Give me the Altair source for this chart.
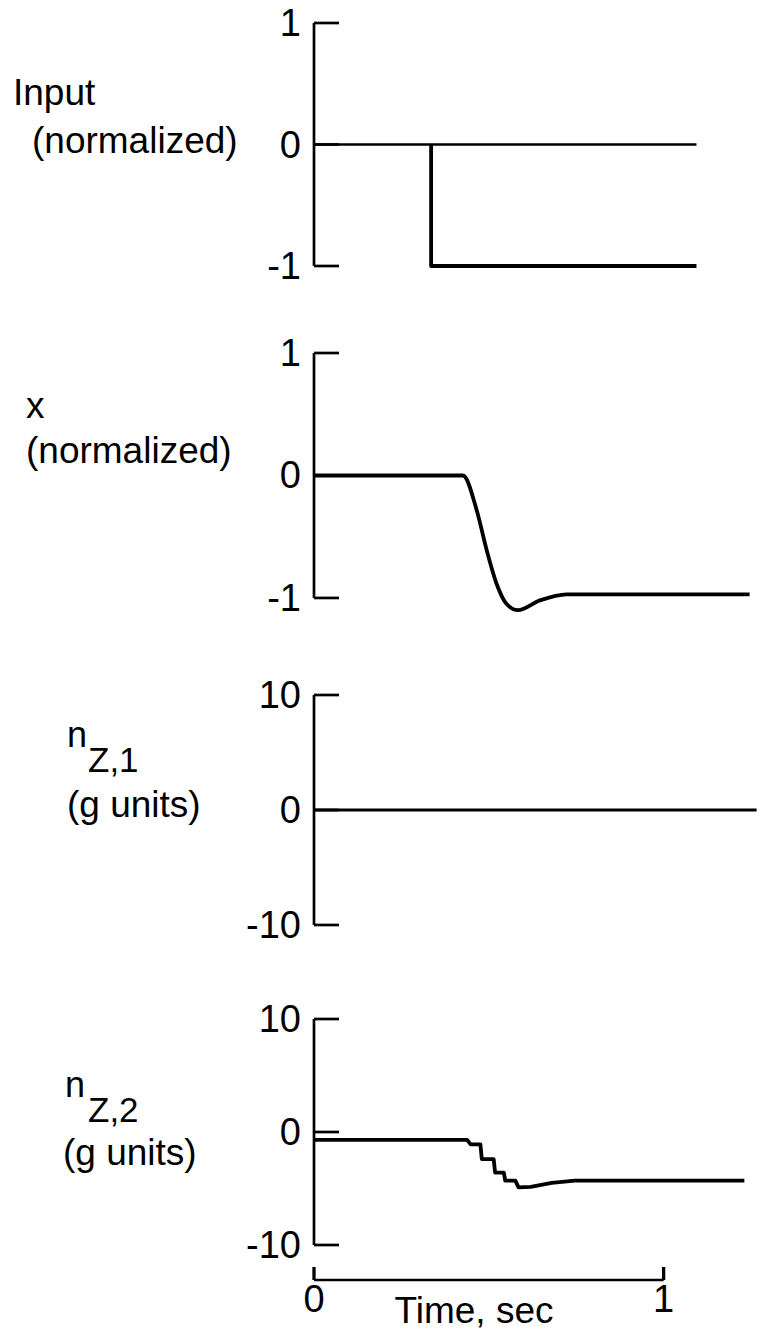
import altair as alt
import pandas as pd

FONT = "Liberation Sans"
TEXT_SIZE = 37
TICK_SIZE = 38

# time axis
T_MAX = 1.27
PX_PER_SEC = 350
W = round(T_MAX * PX_PER_SEC)
TIME_TICKS = [0, 1]
TIME_TITLE = "Time, sec"

# panel 1: input command (normalized) and its zero level
input_t = [0.335, 0.335, 1.094]
input_v = [0.0, -1.0, -1.0]
input_ref_t = [0.0, 1.094]
input_ref_v = [0.0, 0.0]

# panel 2: x response (normalized)
x_t = [0.0, 0.426, 0.466, 0.494, 0.523, 0.551, 0.583, 0.646, 0.723, 1.246]
x_v = [0.0, 0.0, -0.29, -0.61, -0.89, -1.05, -1.10, -1.02, -0.97, -0.97]

# panel 3: n_Z,1 (g units)
nz1_t = [0.0, 1.266]
nz1_v = [0.0, 0.0]

# panel 4: n_Z,2 (g units)
nz2_t = [0.0, 0.438, 0.448, 0.476, 0.480, 0.514, 0.518, 0.543, 0.547, 0.576,
         0.585, 0.620, 0.680, 0.746, 1.231]
nz2_v = [-0.7, -0.7, -1.1, -1.1, -2.4, -2.4, -3.6, -3.6, -4.3, -4.3,
         -4.9, -4.85, -4.5, -4.3, -4.3]

UNIT_TICKS = [-1, 0, 1]
G_TICKS = [-10, 0, 10]

INK = "black"
LINE_W = 3.8
AXIS_W = 2.7
TICK_LEN = 25

x_scale = alt.Scale(domain=[0, T_MAX], nice=False, zero=False)


def frame(t, v, trace):
    return pd.DataFrame({"t": t, "v": v, "trace": trace, "i": list(range(len(t)))})


def y_scale(dom):
    return alt.Scale(domain=dom, nice=False, zero=False)


def trace_layer(df, dom, interp="linear", width=LINE_W):
    return alt.Chart(df).mark_line(
        color=INK, strokeWidth=width, interpolate=interp, strokeJoin="round"
    ).encode(
        x=alt.X("t:Q", scale=x_scale, axis=None),
        y=alt.Y("v:Q", scale=y_scale(dom), axis=None),
        detail="trace:N",
        order="i:Q",
    )


def bracket_layers(dom, values):
    """Left-hand bracket axis: vertical spine, inward ticks and value labels."""
    span = pd.DataFrame({"lo": [min(values)], "hi": [max(values)]})
    ticks = pd.DataFrame({"v": values, "lab": [str(v) for v in values]})
    vert = alt.Chart(span).mark_rule(color=INK, strokeWidth=AXIS_W).encode(
        x=alt.value(0),
        y=alt.Y("lo:Q", scale=y_scale(dom), axis=None),
        y2="hi:Q",
    )
    tk = alt.Chart(ticks).mark_rule(color=INK, strokeWidth=AXIS_W).encode(
        x=alt.value(0),
        x2=alt.value(TICK_LEN),
        y=alt.Y("v:Q", scale=y_scale(dom), axis=None),
    )
    labs = alt.Chart(ticks).mark_text(
        align="right", baseline="middle", font=FONT, fontSize=TICK_SIZE,
        color=INK, dy=2,
    ).encode(
        x=alt.value(-13),
        y=alt.Y("v:Q", scale=y_scale(dom), axis=None),
        text="lab:N",
    )
    return [vert, tk, labs]


def label(text, x, y, size=TEXT_SIZE):
    return alt.Chart(pd.DataFrame({"s": [text]})).mark_text(
        align="left", baseline="alphabetic", font=FONT, fontSize=size, color=INK
    ).encode(text="s:N", x=alt.value(x), y=alt.value(y))


# panel 1
dom1 = [-1, 1]
p1 = alt.layer(
    trace_layer(frame(input_ref_t, input_ref_v, "ref"), dom1, width=2.6),
    trace_layer(frame(input_t, input_v, "input"), dom1),
    *bracket_layers(dom1, UNIT_TICKS),
    label("Input", -301, 82),
    label("(normalized)", -282, 130),
).properties(width=W, height=243)

# panel 2
dom2 = [-1.082, 1]
p2 = alt.layer(
    trace_layer(frame(x_t, x_v, "x"), dom2, interp="monotone"),
    *bracket_layers(dom2, UNIT_TICKS),
    label("x", -288, 65),
    label("(normalized)", -288, 110),
).properties(width=W, height=255)

# panel 3
dom3 = [-10.61, 10]
p3 = alt.layer(
    trace_layer(frame(nz1_t, nz1_v, "nz1"), dom3, width=3.2),
    *bracket_layers(dom3, G_TICKS),
    label("n", -247, 52, 36),
    label("Z,1", -226, 77, 35),
    label("(g units)", -247, 122),
).properties(width=W, height=237)

# panel 4 with the time axis underneath
dom4 = [-10, 10]
H4 = 226
AX_OFF = 35
time_df = pd.DataFrame({"a": TIME_TICKS, "lab": [str(v) for v in TIME_TICKS]})
time_line = alt.Chart(
    pd.DataFrame({"a": [TIME_TICKS[0]], "b": [TIME_TICKS[-1]]})
).mark_rule(color=INK, strokeWidth=AXIS_W).encode(
    x=alt.X("a:Q", scale=x_scale, axis=None), x2="b:Q", y=alt.value(H4 + AX_OFF)
)
time_ticks = alt.Chart(time_df).mark_rule(color=INK, strokeWidth=AXIS_W + 0.6).encode(
    x=alt.X("a:Q", scale=x_scale, axis=None),
    y=alt.value(H4 + AX_OFF - 13), y2=alt.value(H4 + AX_OFF),
)
time_labels = alt.Chart(time_df).mark_text(
    align="center", baseline="top", font=FONT, fontSize=TICK_SIZE, color=INK
).encode(
    x=alt.X("a:Q", scale=x_scale, axis=None),
    y=alt.value(H4 + AX_OFF + 2),
    text="lab:N",
)
time_title = alt.Chart(pd.DataFrame({"s": [TIME_TITLE]})).mark_text(
    align="center", baseline="alphabetic", font=FONT, fontSize=TEXT_SIZE, color=INK
).encode(text="s:N", x=alt.value(160), y=alt.value(H4 + 78))

p4 = alt.layer(
    trace_layer(frame(nz2_t, nz2_v, "nz2"), dom4),
    *bracket_layers(dom4, G_TICKS),
    time_line,
    time_ticks,
    time_labels,
    time_title,
    label("n", -249, 78, 36),
    label("Z,2", -226, 103, 35),
    label("(g units)", -251, 146),
).properties(width=W, height=H4)

chart = alt.vconcat(p1, p2, p3, p4, spacing=87, bounds="flush").properties(
    padding={"left": 13, "top": 6, "right": 0, "bottom": 0},
    background="white",
).configure_view(stroke=None)

chart.save("out.html", embed_options={"renderer": "svg", "actions": False})
